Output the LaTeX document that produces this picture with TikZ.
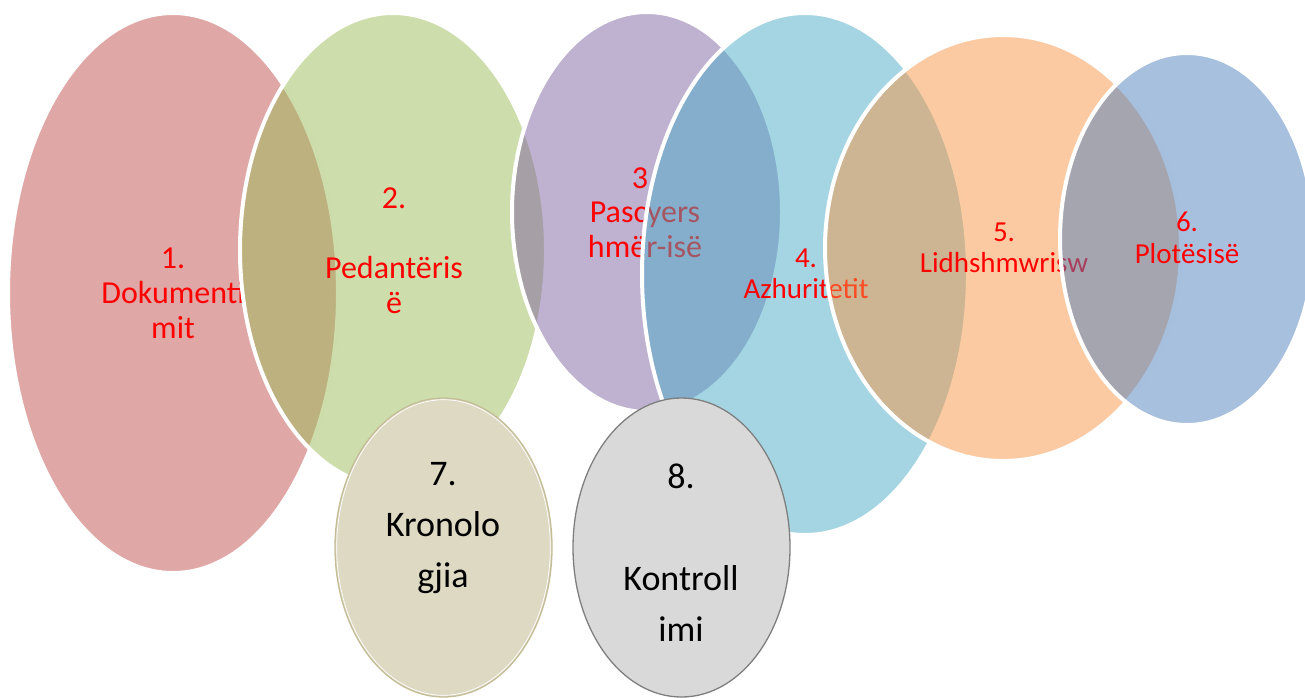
\documentclass[tikz,border=0pt]{standalone}
\usepackage{fontspec}
\setmainfont{Carlito}
\definecolor{cred}{HTML}{C0504D}
\definecolor{cgreen}{HTML}{9BBB59}
\definecolor{cpurple}{HTML}{8064A2}
\definecolor{caqua}{HTML}{4BACC6}
\definecolor{corange}{HTML}{F79646}
\definecolor{cblue}{HTML}{4F81BD}
\definecolor{tanfill}{HTML}{DDD9C3}
\definecolor{tanline}{HTML}{C4BD97}
\definecolor{grayfill}{HTML}{D9D9D9}
\definecolor{grayline}{HTML}{7F7F7F}
\tikzset{
  bubble/.style={fill=#1, fill opacity=0.5, draw=white, draw opacity=1, line width=4pt},
  lblbig/.style={text=red, align=center, inner sep=0pt, font=\fontsize{32}{35}\selectfont},
  lblsmall/.style={text=red, align=center, inner sep=0pt, font=\fontsize{29}{31.5}\selectfont},
  lblblack/.style={text=black, align=center, inner sep=0pt, font=\fontsize{36}{51}\selectfont},
}
\begin{document}
\begin{tikzpicture}[x=1pt,y=-1pt]
\useasboundingbox (0,0) rectangle (1305,697);
\clip (0,0) rectangle (1305,697);
% 1
\path[bubble=cred] (173,293) ellipse [x radius=165pt, y radius=280pt];
\node[lblbig] (t1) at (173,293) {1.\\Dokumenti\\mit};
% 2
\path[bubble=cgreen] (393,250) ellipse [x radius=153pt, y radius=237pt];
\node[lblbig] (t2) at (394,251) {2.\\[35pt]Pedantëris\\ë};
% 3
\path[bubble=cpurple] (647,212) ellipse [x radius=135pt, y radius=200pt];
\node[lblbig] (t3a) at (640,178) {3};
\node[lblbig] (t3) at (645,230) {Pascyers\\hmër-isë};
% 4
\path[bubble=caqua] (805,274) ellipse [x radius=163pt, y radius=261pt];
\node[lblsmall] (t4) at (806,274) {4.\\Azhuritetit};
% 5
\path[bubble=corange] (1003,248) ellipse [x radius=178pt, y radius=213pt];
\node[lblsmall] (t5) at (1004,248) {5.\\Lidhshmwrisw};
% 6
\path[bubble=cblue] (1187,239) ellipse [x radius=127pt, y radius=186pt];
\node[lblsmall] (t6) at (1187,238) {6.\\Plotësisë};
% 7
\path[fill=tanfill, draw=tanline, line width=1.3pt] (443.5,547.5) ellipse [x radius=108.5pt, y radius=149.5pt];
\path[draw=white, line width=0.7pt] (443.5,547.5) ellipse [x radius=106.8pt, y radius=147.8pt];
\node[lblblack] (t7) at (443,528) {7.\\Kronolo\\gjia};
% 8
\path[fill=grayfill, draw=grayline, line width=1.3pt] (681.5,547.5) ellipse [x radius=108.5pt, y radius=149.5pt];
\node[lblblack] (t8) at (681,553) {8.\\[51pt]Kontroll\\imi};
\end{tikzpicture}
\end{document}
